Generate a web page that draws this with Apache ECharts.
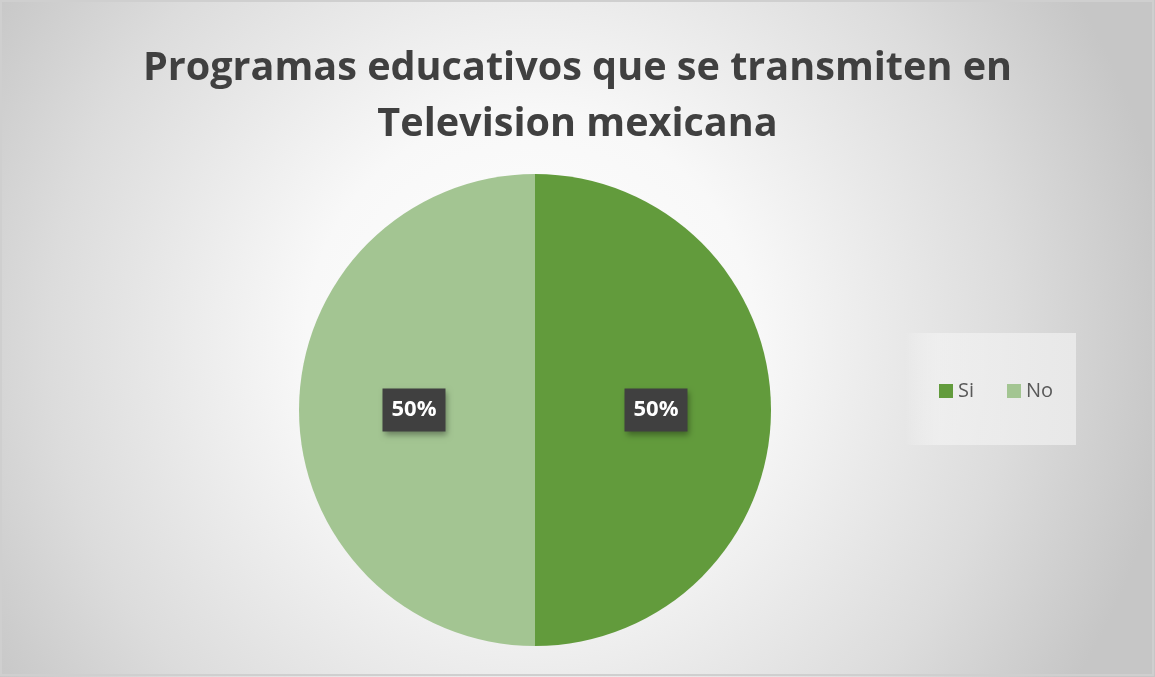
<!DOCTYPE html>
<html>
<head>
<meta charset="utf-8">
<script src="https://cdn.jsdelivr.net/npm/echarts@6/dist/echarts.min.js"></script>
<style>html,body{margin:0;padding:0;background:#fff}#c{width:1155px;height:677px}</style>
</head>
<body>
<div id="c"></div>
<script>
var titleText = 'Programas educativos que se transmiten en\nTelevision mexicana';
var categories = ['Si', 'No'];
var values = [50, 50];
var colors = ['#629B3C', '#A3C592'];

var chart = echarts.init(document.getElementById('c'), null, {renderer: 'canvas'});
chart.setOption({
  backgroundColor: {
    type: 'radial', x: 0.46, y: 0.5, r: 0.95,
    colorStops: [
      {offset: 0, color: '#ffffff'},
      {offset: 0.35, color: '#f8f8f8'},
      {offset: 0.75, color: '#dcdcdc'},
      {offset: 1, color: '#c6c6c6'}
    ]
  },
  title: {
    text: titleText,
    left: 'center',
    top: 36,
    textStyle: {
      fontFamily: 'Open Sans',
      fontWeight: 'bold',
      fontSize: 39.6,
      lineHeight: 56,
      color: '#404040'
    }
  },
  graphic: [
    {type: 'rect', shape: {x: 1, y: 1, width: 1152, height: 674}, style: {fill: 'none', stroke: '#cfcfcf', lineWidth: 2}, z: 100},
    {type: 'rect', shape: {x: 905, y: 333, width: 171, height: 112},
     style: {fill: {type: 'linear', x: 0, y: 0, x2: 1, y2: 0, colorStops: [{offset: 0, color: 'rgba(255,255,255,0)'}, {offset: 0.2, color: 'rgba(245,245,245,0.6)'}, {offset: 1, color: 'rgba(232,232,232,1)'}]}}, z: 0}
  ],
  legend: {
    data: categories,
    left: 939,
    top: 381,
    padding: 0,
    itemWidth: 14,
    itemHeight: 14,
    itemGap: 33,
    icon: 'rect',
    textStyle: {fontFamily: 'Open Sans', fontSize: 20, color: '#595959'}
  },
  series: [{
    type: 'pie',
    center: [535, 410],
    radius: [0, 236],
    startAngle: 90,
    clockwise: true,
    silent: true,
    data: categories.map(function (c, i) { return {name: c, value: values[i], itemStyle: {color: colors[i]}}; }),
    label: {
      show: true,
      position: 'inside',
      formatter: function (p) { return Math.round(p.percent) + '%'; },
      fontFamily: 'Open Sans',
      fontWeight: 'bold',
      fontSize: 22,
      lineHeight: 25,
      color: '#ffffff',
      backgroundColor: '#404040',
      padding: [9, 9, 9, 9],
      shadowBlur: 6,
      shadowOffsetX: 2,
      shadowOffsetY: 3,
      shadowColor: 'rgba(0,0,0,0.35)'
    },
    labelLine: {show: false},
    itemStyle: {borderWidth: 0}
  }]
});
</script>
</body>
</html>
